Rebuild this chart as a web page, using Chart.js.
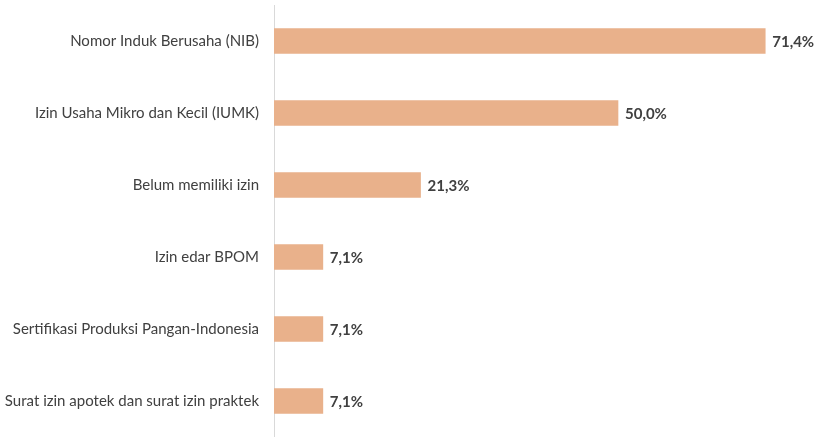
<!DOCTYPE html>
<html>
<head>
<meta charset="utf-8">
<script src="https://cdn.jsdelivr.net/npm/chart.js@4.4.1/dist/chart.umd.min.js"></script>
<style>
  html, body { margin: 0; padding: 0; background: #fff; }
</style>
</head>
<body>
<canvas id="chart" width="820" height="437"></canvas>
<script>
// Jenis perizinan usaha (% responden)
const categories = [
  "Nomor Induk Berusaha (NIB)",
  "Izin Usaha Mikro dan Kecil (IUMK)",
  "Belum memiliki izin",
  "Izin edar BPOM",
  "Sertifikasi Produksi Pangan-Indonesia",
  "Surat izin apotek dan surat izin praktek"
];
const values = [71.4, 50.0, 21.3, 7.1, 7.1, 7.1];

const FONT = "Lato, 'Open Sans', sans-serif";
const TEXT = "#404040";

// value labels at the end of each bar, e.g. "71,4%"
const barValueLabels = {
  id: "barValueLabels",
  afterDatasetsDraw(chart) {
    const { ctx } = chart;
    const meta = chart.getDatasetMeta(0);
    ctx.save();
    ctx.font = "bold 15px " + FONT;
    ctx.fillStyle = TEXT;
    ctx.textAlign = "left";
    ctx.textBaseline = "middle";
    meta.data.forEach((bar, i) => {
      const txt = values[i].toFixed(1).replace(".", ",") + "%";
      ctx.fillText(txt, bar.x + 7, bar.y + 1);
    });
    ctx.restore();
  }
};

new Chart(document.getElementById("chart").getContext("2d"), {
  type: "bar",
  data: {
    labels: categories,
    datasets: [{
      data: values,
      backgroundColor: "#e9b18b",
      barThickness: 25,
      borderWidth: 0,
    }]
  },
  options: {
    indexAxis: "y",
    responsive: false, animation: false,
    layout: { padding: { top: 5, right: 30, bottom: 0, left: 0 } },
    plugins: { legend: { display: false }, tooltip: { enabled: false } },
    scales: {
      x: { display: false, min: 0, max: 75 },
      y: {
        // fixed label column; no extra room above/below the first/last label
        afterFit: s => { s.width = 274; s.paddingTop = 0; s.paddingBottom = 0; },
        grid: { display: false, drawTicks: false },
        border: { display: true, color: "#d9d9d9", width: 1 },
        ticks: { color: TEXT, padding: 15, font: { family: FONT, size: 15 } },
      },
    },
  },
  plugins: [barValueLabels],
});
</script>
</body>
</html>
